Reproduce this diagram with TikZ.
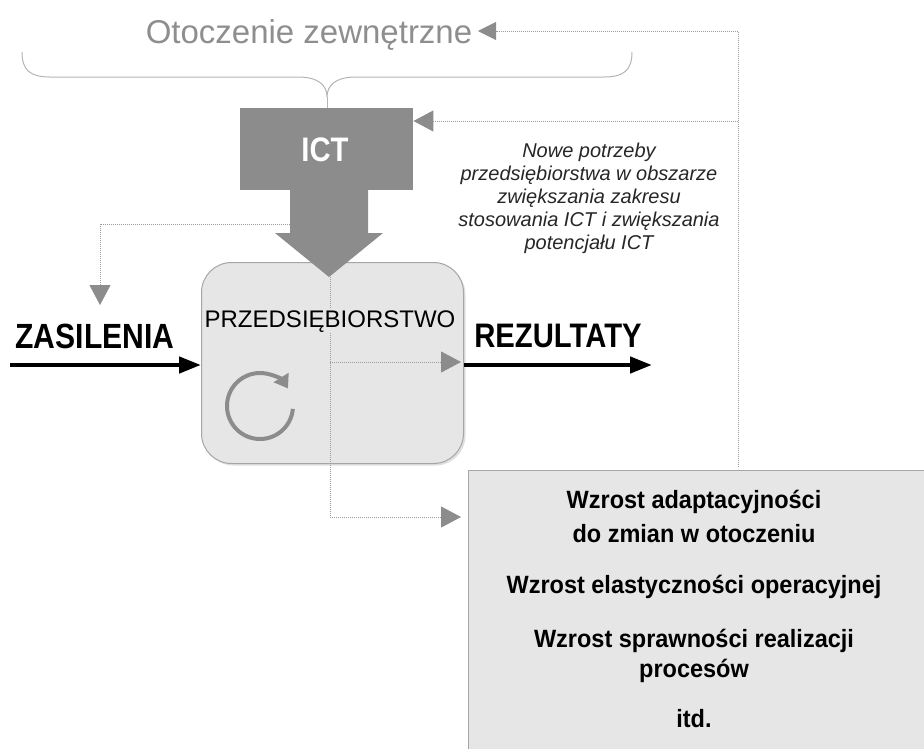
\documentclass[tikz,border=0pt]{standalone}
\usepackage{fontspec}
\setmainfont{Liberation Sans}
\newfontfamily\narrowfont[FakeStretch=0.86]{Liberation Sans}
\newfontfamily\boxfont[FakeStretch=0.94]{Liberation Sans}
\usetikzlibrary{arrows.meta,shadows,calc}
\definecolor{dgray}{HTML}{8C8C8C}
\definecolor{lgray}{HTML}{E6E6E6}
\definecolor{dotgray}{HTML}{9C9C9C}
\definecolor{bracegray}{HTML}{B4B4B4}
\definecolor{titlegray}{HTML}{8E8E8E}
\definecolor{edgegray}{HTML}{A6A6A6}
\begin{document}
\begin{tikzpicture}[x=1pt,y=-1pt,
  dotline/.style={draw=dotgray, line width=0.9pt, dash pattern=on 1pt off 1pt},
  gtip/.style={-{Triangle[length=20pt,width=21pt,color=dgray,fill=dgray]}},
  ttip/.style={-{Triangle[length=18pt,width=18pt,color=dgray,fill=dgray]}},
  btip/.style={line width=4.5pt,-{Triangle[length=22pt,width=16pt]}},
  bigtxt/.style={font=\narrowfont\bfseries\fontsize{35}{40}\selectfont, anchor=base, inner sep=0pt},
  restxt/.style={font=\boxfont\bfseries\fontsize{25}{30}\selectfont, anchor=base, inner sep=0pt},
  itxt/.style={font=\itshape\fontsize{20}{23}\selectfont, anchor=base, inner sep=0pt, text=black!85}
]
\useasboundingbox (0,0) rectangle (924,748);

% title
\node[font=\fontsize{33}{36}\selectfont, text=titlegray, anchor=base, inner sep=0pt] (title) at (309,43) {Otoczenie zewnętrzne};

% brace
\coordinate (btip) at (327,97);
\draw[bracegray, line width=1pt] (22,52) .. controls (22,70) and (30,77) .. (50,77) -- (298,77)
   .. controls (318,77) and (327,85) .. (btip)
   .. controls (327,85) and (336,77) .. (356,77) -- (604,77)
   .. controls (624,77) and (632,70) .. (632,52);

% ICT box
\node[fill=dgray, minimum width=173pt, minimum height=82pt, inner sep=0pt, anchor=north west] (ict) at (240,108) {};
\draw[bracegray, line width=1pt] (btip) -- (ict.north -| btip);

% enterprise box
\node[draw=edgegray, line width=1pt, fill=lgray, rounded corners=30pt, minimum width=262pt, minimum height=201pt,
      anchor=north west, inner sep=0pt,
      drop shadow={shadow xshift=2pt, shadow yshift=-2pt, opacity=0.25}] (ent) at (201,262) {};

% block arrow from ICT
\fill[dgray] (290,190) -- (368,190) -- (368,233) -- (383,233) -- (329,277) -- (275,233) -- (290,233) -- cycle;
\node[text=white, font=\narrowfont\bfseries\fontsize{34}{36}\selectfont, anchor=base, inner sep=0pt] (icttxt) at (325,161) {ICT};

% results box
\node[draw=edgegray, line width=1pt, fill=lgray, anchor=north west, minimum width=470pt, minimum height=290pt, inner sep=0pt] (res) at (468,470) {};

% coordinates for dotted connectors
\coordinate (rv) at (738,467);
\coordinate (rc) at (738,31);
\coordinate (tarr) at (478,31);
\coordinate (ictbr) at (738,121);
\coordinate (ictin) at (ict.east |- ictbr);
\coordinate (shaftl) at (290,224);
\coordinate (lcorner) at (100,224);
\coordinate (ltip) at (100,305);
\coordinate (dtop) at (330,277);
\coordinate (dmid) at (330,362);
\coordinate (dbot) at (330,517);
\coordinate (midtip) at (461,362);
\coordinate (bottip) at (461,517);

\draw[dotline, ttip] (rv) -- (rc) -- (tarr);
\draw[dotline, gtip] (ictbr) -- (ictin);
\draw[dotline, gtip] (shaftl) -- (lcorner) -- (ltip);
\draw[dotline] (dtop) -- (dbot);
\draw[dotline, gtip] (dmid) -- (midtip);
\draw[dotline, gtip] (dbot) -- (bottip);

% enterprise label
\node[fill=lgray, inner sep=1pt, font=\fontsize{24}{28}\selectfont, anchor=base] (enttxt) at (330,327) {PRZEDSIĘBIORSTWO};

% cycle icon
\coordinate (cyc) at (260,406);
\draw[dgray, line width=4pt, -{Triangle[length=13pt,width=17pt]}] ($(cyc)+(5:33)$) arc[start angle=-5, end angle=-328, radius=33pt];

% inputs / outputs
\node[bigtxt] (zas) at (95,348) {ZASILENIA};
\node[bigtxt, font=\narrowfont\bfseries\fontsize{34}{40}\selectfont] (rez) at (558,347) {REZULTATY};
\coordinate (zstart) at (10,365);
\coordinate (rend) at (652,365);
\draw[btip] (zstart) -- (ent.west |- zstart);
\draw[btip] (ent.east |- rend) -- (rend);

% italic note
\node[itxt] (n1) at (589,157) {Nowe potrzeby};
\node[itxt] (n2) at (589,180) {przedsiębiorstwa w obszarze};
\node[itxt] (n3) at (589,203) {zwiększania zakresu};
\node[itxt] (n4) at (589,226) {stosowania ICT i zwiększania};
\node[itxt] (n5) at (589,249) {potencjału ICT};

% results text
\node[restxt] (r1) at (694,508) {Wzrost adaptacyjności};
\node[restxt] (r2) at (694,542) {do zmian w otoczeniu};
\node[restxt] (r3) at (694,593) {Wzrost elastyczności operacyjnej};
\node[restxt] (r4) at (694,647) {Wzrost sprawności realizacji};
\node[restxt] (r5) at (694,677) {procesów};
\node[restxt] (r6) at (694,727) {itd.};
\end{tikzpicture}
\end{document}
